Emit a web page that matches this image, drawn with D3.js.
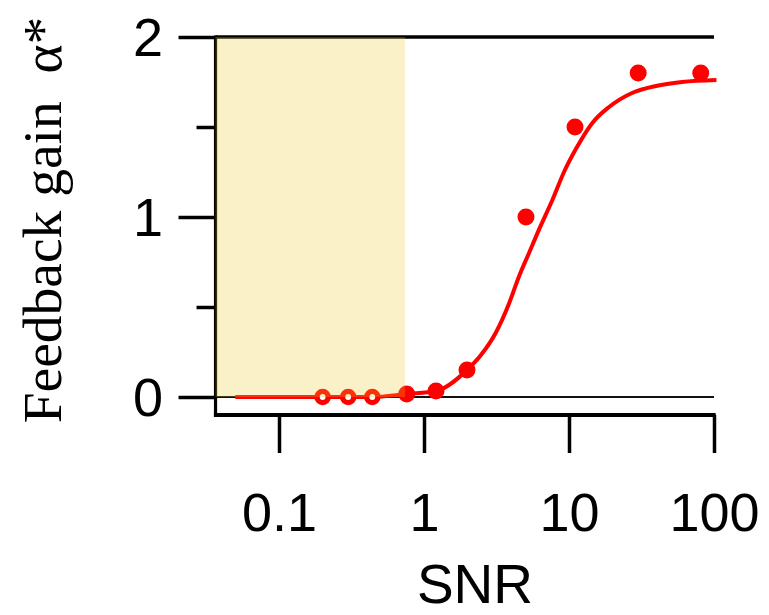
<!DOCTYPE html>
<html>
<head>
<meta charset="utf-8">
<script src="https://cdn.jsdelivr.net/npm/d3@7"></script>
<style>
  html, body { margin: 0; padding: 0; background: #fff; }
  svg { display: block; }
</style>
</head>
<body>
<svg id="chart" width="769" height="615"></svg>
<script>
// Model prediction: optimal feedback gain vs. signal-to-noise ratio
const curveSNR  = [0.05, 0.2, 0.44, 0.76, 1.21, 1.98, 2.47, 3.14, 3.86, 4.52, 5.3, 6.21, 7.64, 9.24, 11.2, 14.4, 18.9, 27.2, 39.8, 60.1, 104];
const curveGain = [0, 0, 0, 0.017, 0.033, 0.15, 0.233, 0.36, 0.52, 0.67, 0.8, 0.93, 1.09, 1.25, 1.38, 1.52, 1.611, 1.689, 1.728, 1.75, 1.761];

// Measured gains (filled) and low-SNR measurements (open)
const dotSNR   = [0.76, 1.21, 1.98, 5.05, 11, 30, 81];
const dotGain  = [0.017, 0.033, 0.15, 1.0, 1.5, 1.8, 1.8];
const openSNR  = [0.2, 0.3, 0.44];
const openGain = [0, 0, 0];

// Axis ticks
const xTicks = [0.1, 1, 10, 100];
const xTickLabels = ["0.1", "1", "10", "100"];
const yMajor = [0, 1, 2];
const yMinor = [0.5, 1.5];

// Axis extent and low-SNR band
const xStart = 0.0365;
const xEnd = 100;
const bandEnd = 0.74;

const svg = d3.select("#chart");
const x = d3.scaleLog().domain([0.1, 100]).range([279, 714]);
const y = d3.scaleLinear().domain([0, 2]).range([397, 37]);
const xAxisY = 415;

const sans = "'Liberation Sans', Arial, sans-serif";
const serif = "'Liberation Serif', 'Times New Roman', serif";

// Reference lines at 0 and 2
svg.append("line")
  .attr("x1", x(xStart)).attr("x2", x(xEnd))
  .attr("y1", y(2)).attr("y2", y(2))
  .attr("stroke", "#000").attr("stroke-width", 3.5);
svg.append("line")
  .attr("x1", x(xStart)).attr("x2", x(xEnd))
  .attr("y1", y(0)).attr("y2", y(0))
  .attr("stroke", "#111").attr("stroke-width", 2.2);

// Left axis
const yAxis = svg.append("g")
  .attr("transform", `translate(${x(xStart)},0)`)
  .call(d3.axisLeft(y).tickValues(yMajor.concat(yMinor)).tickSize(37).tickFormat(""));
yAxis.select(".domain").remove();
yAxis.selectAll(".tick line")
  .attr("stroke", "#000").attr("stroke-width", 3.5)
  .attr("x2", d => yMinor.includes(d) ? -19 : -37);
svg.append("line")
  .attr("x1", x(xStart)).attr("x2", x(xStart))
  .attr("y1", y(2) - 1.5).attr("y2", xAxisY + 2)
  .attr("stroke", "#000").attr("stroke-width", 3.2);

svg.append("g").selectAll("text")
  .data(yMajor)
  .join("text")
  .attr("x", 163)
  .attr("y", d => y(d) + 19)
  .attr("text-anchor", "end")
  .attr("font-family", sans)
  .attr("font-size", 54)
  .text(d => d);

// Bottom axis
const xAxis = svg.append("g")
  .attr("transform", `translate(0,${xAxisY})`)
  .call(d3.axisBottom(x).tickValues(xTicks).tickSize(38).tickFormat((d, i) => xTickLabels[i]));
xAxis.select(".domain").remove();
xAxis.selectAll(".tick line").attr("stroke", "#000").attr("stroke-width", 3.5);
xAxis.selectAll(".tick text")
  .attr("y", 116).attr("dy", null)
  .attr("font-family", sans)
  .attr("font-size", 54)
  .attr("fill", "#000");
svg.append("line")
  .attr("x1", x(xStart) - 1.6).attr("x2", x(xEnd) + 1.7)
  .attr("y1", xAxisY).attr("y2", xAxisY)
  .attr("stroke", "#000").attr("stroke-width", 4);

// Axis titles
svg.append("text")
  .attr("x", 475).attr("y", 603)
  .attr("text-anchor", "middle")
  .attr("font-family", sans)
  .attr("font-size", 55)
  .text("SNR");

svg.append("text")
  .attr("transform", `translate(61,${(422 + 18) / 2}) rotate(-90)`)
  .attr("text-anchor", "middle")
  .attr("font-family", serif)
  .attr("font-size", 55.5)
  .text("Feedback gain\u00a0\u00a0\u03b1*");

// Model curve
const curvePts = curveSNR.map((s, i) => [x(s), y(curveGain[i])]);
svg.append("path")
  .attr("d", d3.line().curve(d3.curveMonotoneX)(curvePts))
  .attr("fill", "none")
  .attr("stroke", "#ff0000")
  .attr("stroke-width", 4)
  .attr("stroke-linejoin", "round");

// Data points
svg.append("g").selectAll("circle")
  .data(dotSNR.map((s, i) => [s, dotGain[i]]))
  .join("circle")
  .attr("cx", d => x(d[0]))
  .attr("cy", d => y(d[1]))
  .attr("r", 8.5)
  .attr("fill", "#ff0000");

svg.append("g").selectAll("circle")
  .data(openSNR.map((s, i) => [s, openGain[i]]))
  .join("circle")
  .attr("cx", d => x(d[0]))
  .attr("cy", d => y(d[1]))
  .attr("r", 5.6)
  .attr("fill", "#fff")
  .attr("stroke", "#ff0000")
  .attr("stroke-width", 5.4);

// Translucent band marking the low-SNR regime
svg.append("rect")
  .attr("x", x(xStart))
  .attr("y", y(2))
  .attr("width", x(bandEnd) - x(xStart))
  .attr("height", y(0) - y(2))
  .attr("fill", "rgb(240,200,36)")
  .attr("fill-opacity", 0.25);
</script>
</body>
</html>
